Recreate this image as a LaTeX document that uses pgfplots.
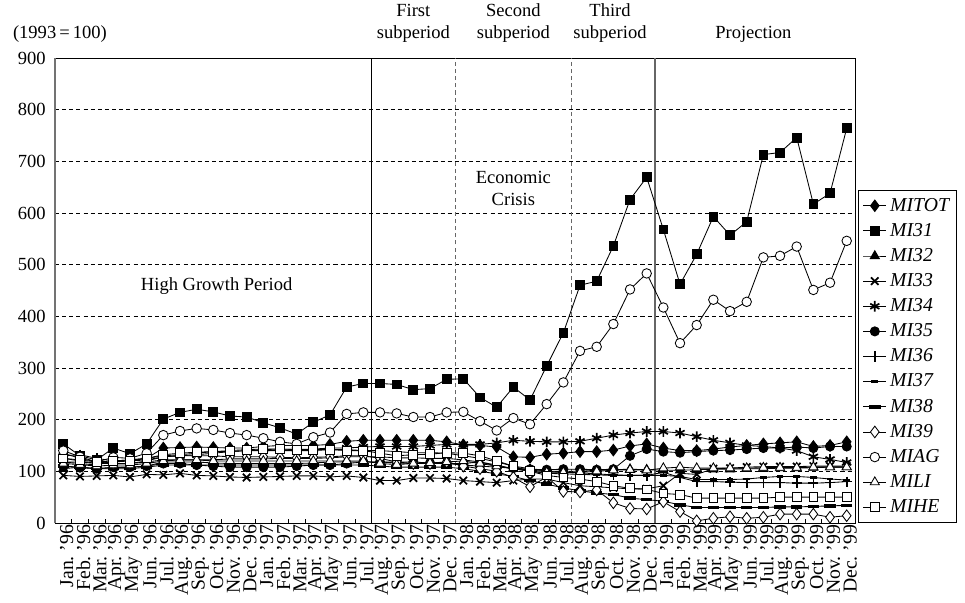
\documentclass[border=0pt]{standalone}
\usepackage{fontspec}
\setmainfont{Liberation Serif}
\usepackage{pgfplots}
\usepackage{pgfplotstable}
\pgfplotsset{compat=1.18}

% Monthly indices (1993 = 100), Jan. '96 = 0 ... Dec. '99 = 47
\pgfplotstableread{
x  TOT I31 I32 I33 I34 I35 I36 I37 I38 I39 AG  LI  HE
0  118 153 105 92  125 110 130 118 110 135 140 115 125
1  115 130 108 90  120 107 132 118 108 125 128 113 122
2  112 122 105 91  115 105 125 115 105 118 118 110 118
3  120 145 107 92  118 108 120 115 105 115 127 112 120
4  122 134 108 89  120 108 122 115 105 115 125 112 120
5  125 153 110 94  122 110 125 118 108 120 135 115 125
6  145 201 118 93  128 115 130 122 112 128 170 120 132
7  146 214 118 96  130 115 132 122 112 130 178 122 135
8  147 220 118 92  132 112 135 122 112 130 183 122 137
9  146 215 116 91  135 110 138 122 112 130 180 120 138
10 145 207 115 89  138 108 138 124 112 128 174 120 140
11 145 205 115 88  140 108 140 124 112 128 170 120 142
12 148 194 115 89  142 108 140 124 112 128 164 120 143
13 150 184 115 90  143 108 140 125 112 127 157 120 143
14 150 172 115 91  142 110 140 125 112 126 153 120 142
15 150 195 116 91  143 112 140 125 112 127 166 120 142
16 152 209 118 89  145 112 142 126 112 128 175 120 142
17 158 263 118 91  145 115 142 128 112 130 211 120 140
18 160 270 118 88  147 118 140 128 112 130 214 120 140
19 160 270 118 82  148 118 140 128 110 125 214 115 135
20 160 268 116 82  148 118 138 126 108 118 212 113 130
21 160 258 115 87  148 118 136 126 108 115 205 115 132
22 160 260 115 87  150 116 136 125 108 115 205 116 133
23 157 278 115 86  152 115 135 125 108 118 214 118 136
24 151 279 115 82  152 112 130 122 105 110 215 120 135
25 150 243 118 80  152 110 125 118 100 105 197 115 130
26 147 224 110 78  155 108 118 112 95  100 179 110 120
27 128 263 105 82  160 106 110 105 90  88  203 105 110
28 127 238 102 85  158 104 105 100 82  70  191 100 100
29 133 304 100 85  157 103 100 96  75  89  230 98  92
30 135 368 100 78  157 104 98  95  68  61  272 98  88
31 138 460 100 72  158 104 97  94  62  60  333 98  85
32 138 468 102 70  164 103 95  93  58  64  341 100 80
33 141 536 103 68  170 104 93  92  55  39  385 102 72
34 149 626 104 66  174 130 92  92  48  28  452 103 67
35 153 669 103 66  177 143 92  92  45  27  483 102 65
36 145 568 102 72  177 138 98  92  42  41  417 106 57
37 140 462 102 96  174 136 88  90  35  22  348 108 55
38 140 520 103 94  167 138 80  84  30  4   383 106 48
39 143 593 104 105 160 140 80  84  30  9   432 106 48
40 147 557 104 106 155 141 79  84  30  12  410 106 48
41 150 583 105 108 150 143 78  85  30  9   428 106 48
42 153 713 105 109 148 145 78  88  30  11  514 107 48
43 155 717 106 109 145 145 78  90  31  17  517 107 50
44 157 746 106 109 140 147 77  90  31  17  535 107 50
45 148 617 107 110 128 145 77  88  32  17  451 108 50
46 150 638 108 110 123 148 78  85  33  11  465 108 50
47 157 764 108 110 117 148 80  83  34  14  546 108 50
}\indices

\begin{document}
\begin{tikzpicture}[font=\fontsize{10.9}{13}\selectfont]
\begin{axis}[
  scale only axis,
  width=470.6pt, height=273.5pt,
  xmin=-0.5, xmax=47.5, ymin=0, ymax=900,
  clip=false,
  axis line style={black, line width=0.5pt},
  xtick={0,...,47},
  xticklabels={
    Jan.~’96,Feb.~’96,Mar.~’96,Apr.~’96,May~’96,Jun.~’96,Jul.~’96,Aug.~’96,Sep.~’96,Oct.~’96,Nov.~’96,Dec.~’96,
    Jan.~’97,Feb.~’97,Mar.~’97,Apr.~’97,May~’97,Jun.~’97,Jul.~’97,Aug.~’97,Sep.~’97,Oct.~’97,Nov.~’97,Dec.~’97,
    Jan.~’98,Feb.~’98,Mar.~’98,Apr.~’98,May~’98,Jun.~’98,Jul.~’98,Aug.~’98,Sep.~’98,Oct.~’98,Nov.~’98,Dec.~’98,
    Jan.~’99,Feb.~’99,Mar.~’99,Apr.~’99,May~’99,Jun.~’99,Jul.~’99,Aug.~’99,Sep.~’99,Oct.~’99,Nov.~’99,Dec.~’99},
  xticklabel style={rotate=90, anchor=east, inner sep=1pt, yshift=-2pt,
    font=\fontsize{11.6}{13}\selectfont},
  minor x tick num=1,
  major x tick style={draw=none},
  minor x tick style={black, line width=0.4pt},
  minor tick length=2.4pt,
  tick align=inside,
  xtick pos=bottom,
  ytick={0,100,...,900},
  ytick style={draw=none},
  yticklabel style={xshift=-2pt},
  /pgf/number format/assume math mode=true,
  ymajorgrids,
  major grid style={black, line width=0.4pt, dash pattern=on 2.4pt off 1.8pt},
  every axis plot/.append style={black, line width=0.5pt},
  legend style={at={(1,0)}, anchor=south west, xshift=1.8pt,
    font=\fontsize{11.6}{13}\selectfont\itshape, draw=black, line width=0.5pt,
    inner xsep=2.5pt, inner ysep=2.5pt, row sep=1.6pt},
  legend cell align=left,
  legend image code/.code={\draw[mark repeat=2,mark phase=2,#1]
    plot coordinates {(0cm,0cm) (0.24cm,0cm) (0.48cm,0cm)};},
]
% period boundaries
\draw[black, line width=0.5pt] (axis cs:18.5,0) -- (axis cs:18.5,900);
\draw[black!60, line width=0.6pt, dash pattern=on 2.4pt off 1.8pt] (axis cs:23.5,0) -- (axis cs:23.5,900);
\draw[black!60, line width=0.6pt, dash pattern=on 2.4pt off 1.8pt] (axis cs:30.5,0) -- (axis cs:30.5,900);
\draw[black!60, line width=0.7pt] (axis cs:35.5,0) -- (axis cs:35.5,900);
\draw[black!55, line width=1.1pt] (rel axis cs:0,0) -- (rel axis cs:0,1);

\addplot[mark=diamond*, mark size=3.4pt, mark options={solid, fill=black}] table[x=x, y=TOT]{\indices};
\addlegendentry{MITOT}
\addplot[mark=square*, mark size=2.6pt, mark options={solid, fill=black}] table[x=x, y=I31]{\indices};
\addlegendentry{MI31}
\addplot[mark=triangle*, mark size=3.1pt, mark options={solid, fill=black}] table[x=x, y=I32]{\indices};
\addlegendentry{MI32}
\addplot[mark=x, mark size=3.1pt, mark options={solid, line width=1pt}] table[x=x, y=I33]{\indices};
\addlegendentry{MI33}
\addplot[mark=asterisk, mark size=3.1pt, mark options={solid, line width=1pt}] table[x=x, y=I34]{\indices};
\addlegendentry{MI34}
\addplot[mark=*, mark size=2.7pt, mark options={solid, fill=black}] table[x=x, y=I35]{\indices};
\addlegendentry{MI35}
\addplot[mark=+, mark size=3pt, mark options={solid, line width=1pt}] table[x=x, y=I36]{\indices};
\addlegendentry{MI36}
\addplot[mark=-, mark size=2pt, mark options={solid, line width=1.6pt}] table[x=x, y=I37]{\indices};
\addlegendentry{MI37}
\addplot[mark=-, mark size=3.4pt, mark options={solid, line width=2pt}] table[x=x, y=I38]{\indices};
\addlegendentry{MI38}
\addplot[mark=diamond*, mark size=3.4pt, mark options={solid, fill=white}] table[x=x, y=I39]{\indices};
\addlegendentry{MI39}
\addplot[mark=*, mark size=2.8pt, mark options={solid, fill=white}] table[x=x, y=AG]{\indices};
\addlegendentry{MIAG}
\addplot[mark=triangle*, mark size=3.1pt, mark options={solid, fill=white}] table[x=x, y=LI]{\indices};
\addlegendentry{MILI}
\addplot[mark=square*, mark size=2.6pt, mark options={solid, fill=white}] table[x=x, y=HE]{\indices};
\addlegendentry{MIHE}

% period captions
\node[anchor=south, align=center, yshift=5.5pt] at (axis cs:21,900) {First\\subperiod};
\node[anchor=south, align=center, yshift=5.5pt] at (axis cs:27,900) {Second\\subperiod};
\node[anchor=south, align=center, yshift=5.5pt] at (axis cs:32.8,900) {Third\\subperiod};
\node[anchor=south, yshift=5.5pt] at (axis cs:41.4,900) {Projection};
\node[anchor=south west, xshift=-28.2pt, yshift=5.5pt] at (rel axis cs:0,1) {(1993\,=\,100)};
\node[align=center] at (axis cs:27,648) {Economic\\Crisis};
\node at (axis cs:9.2,459) {High Growth Period};
\end{axis}
\pgfresetboundingbox
\path[use as bounding box] ([xshift=-32.34pt,yshift=-47.04pt]current axis.south west)
  rectangle ([xshift=64.68pt,yshift=34.1pt]current axis.north east);
\end{tikzpicture}
\end{document}
